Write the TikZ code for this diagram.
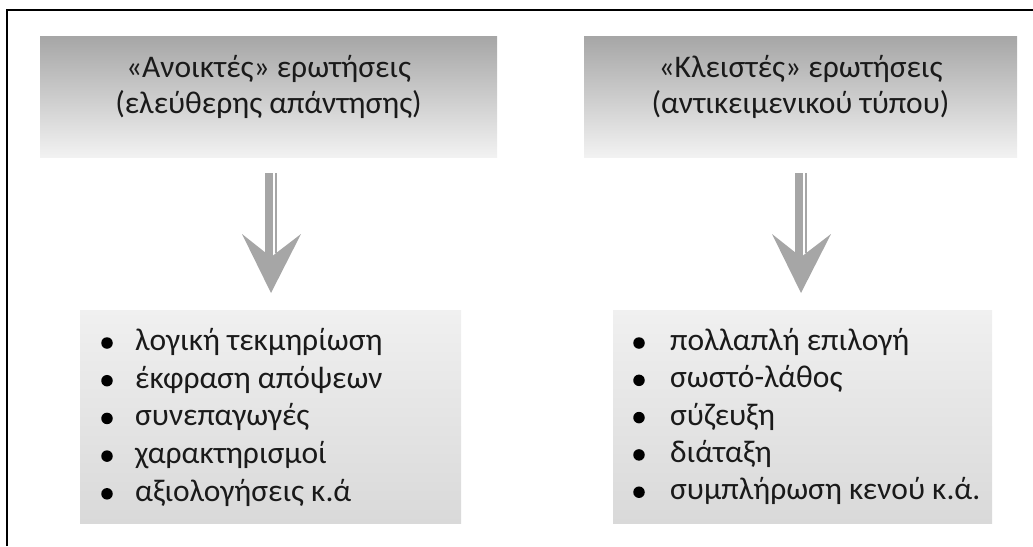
\documentclass[tikz,border=0pt]{standalone}
\usepackage{fontspec}
\setmainfont{Carlito}
\definecolor{hdrtop}{HTML}{A6A6A6}
\definecolor{hdrmid}{HTML}{D0D0D0}
\definecolor{hdrbot}{HTML}{F2F2F2}
\definecolor{lsttop}{HTML}{F0F0F0}
\definecolor{lstbot}{HTML}{D9D9D9}
\definecolor{arrowgray}{HTML}{A6A6A6}
\definecolor{txt}{HTML}{1A1A1A}
\begin{document}
\begin{tikzpicture}[x=1pt,y=-1pt,
  hdrbox/.style={rectangle, inner sep=0pt, minimum height=121pt,
    top color=hdrtop, middle color=hdrmid, bottom color=hdrbot},
  hdrtext/.style={align=center, anchor=base, inner sep=0pt, text=txt, font=\fontsize{31.5}{36}\selectfont},
  lstbox/.style={rectangle, inner sep=0pt, minimum height=213pt,
    top color=lsttop, bottom color=lstbot},
  item/.style={anchor=base west, inner sep=0pt, text=txt, font=\fontsize{31.5}{36}\selectfont},
  bullet/.style={circle, fill=black, inner sep=0pt, minimum size=11.5pt},
]
\useasboundingbox (0,0) rectangle (1033,546);
\coordinate (fb) at (7,546);
\coordinate (fc) at (7,9.5);
\coordinate (fr) at (1033,9.5);
\draw[line width=2pt] (fb) -- (fc) -- (fr);

% header boxes
\node[hdrbox, minimum width=457pt] (h1) at (268.5,96.5) {};
\node[hdrtext] (t1) at (268.5,113) {«Ανοικτές» ερωτήσεις\\(ελεύθερης απάντησης)};
\node[hdrbox, minimum width=433pt] (h2) at (800.5,96.5) {};
\node[hdrtext] (t2) at (800.5,113) {«Κλειστές» ερωτήσεις\\(αντικειμενικού τύπου)};

% list boxes
\node[lstbox, minimum width=381pt] (b1) at (270.5,416.5) {};
\node[lstbox, minimum width=379pt] (b2) at (802.5,416.5) {};

% arrows
\foreach \n/\cx in {1/271,2/801}{
  \coordinate (a\n top) at (\cx,173);
  \coordinate (a\n tip) at (\cx,293);
  \fill[arrowgray] (a\n top) ++(-6,0) rectangle ++(8,84);
  \fill[arrowgray] (a\n top) ++(4,0) rectangle ++(2,80);
  \fill[arrowgray] (a\n tip) ++(-29,-59) -- (a\n tip) -- ++(30,-59) -- ++(-30,23) -- cycle;
}

% left list
\foreach \i/\t in {1/λογική τεκμηρίωση,2/έκφραση απόψεων,3/συνεπαγωγές,4/χαρακτηρισμοί,5/αξιολογήσεις κ.ά}{
  \node[bullet] (lb\i) at (107,{343+37.7*(\i-1)}) {};
  \node[item] (li\i) at (135,{350.5+37.7*(\i-1)}) {\t};
}
% right list
\foreach \i/\t in {1/πολλαπλή επιλογή,2/σωστό-λάθος,3/σύζευξη,4/διάταξη,5/συμπλήρωση κενού κ.ά.}{
  \node[bullet] (rb\i) at (639,{343+37.3*(\i-1)}) {};
  \node[item] (ri\i) at (670,{350.5+37.3*(\i-1)}) {\t};
}
\end{tikzpicture}
\end{document}
